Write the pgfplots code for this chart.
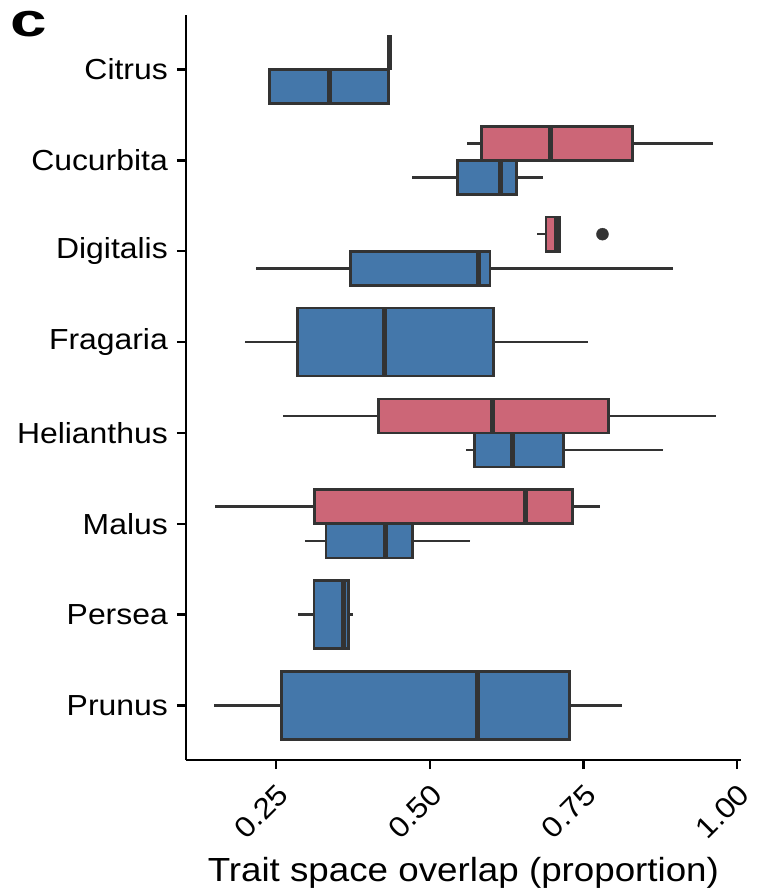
\documentclass[border=0pt]{standalone}
\usepackage{pgfplots}
\pgfplotsset{compat=1.18}
\usepgfplotslibrary{statistics}
\usepackage{fontspec}
\setmainfont{Liberation Sans}[FakeStretch=1.1]
\usepackage{graphicx}
\definecolor{rose}{HTML}{CC6677}
\definecolor{tolblue}{HTML}{4477AA}
\definecolor{gray33}{HTML}{333333}
\pgfplotsset{
  bx/.style={draw=gray33, line width=2.6pt, solid,
    boxplot/every box/.style={line width=2.6pt},
    boxplot/every whisker/.style={line width=2.6pt},
    boxplot/every median/.style={line width=5pt},
    boxplot/whisker extend=0},
  redbx/.style={bx, fill=rose},
  bluebx/.style={bx, fill=tolblue},
}
\begin{document}
\begin{tikzpicture}
\useasboundingbox (-186pt,-133pt) rectangle (573pt,760pt);
\begin{axis}[
  at={(0pt,0pt)}, anchor=south west,
  scale only axis, width=554.8pt, height=745pt,
  xmin=0.1036, xmax=1.006, ymin=0.4, ymax=8.6,
  axis lines=left, axis line style={-, line width=2.6pt, black},
  tick align=outside, major tick length=9pt,
  tick style={line width=2.4pt, black},
  xtick={0.25,0.5,0.75,1}, xticklabels={0.25,0.50,0.75,1.00},
  ytick={1,2,3,4,5,6,7,8},
  yticklabels={Prunus,Persea,Malus,Helianthus,Fragaria,Digitalis,Cucurbita,Citrus},
  /pgf/number format/assume math mode=true,
  ticklabel style={font=\fontsize{29}{34}\selectfont, black},
  xticklabel style={yshift=-13pt, rotate=45, anchor=north east, inner sep=0pt},
  yticklabel style={anchor=east, inner sep=0pt, xshift=-9pt},
  xlabel={Trait space overlap (proportion)},
  every axis x label/.style={at={(axis description cs:0.5,0)}, anchor=base, yshift=-121pt,
    font=\fontsize{33.4}{40}\selectfont},
  boxplot/draw direction=x,
  clip=false,
]
% Citrus
\addplot[redbx, boxplot prepared={lower whisker=0.434, lower quartile=0.434, median=0.434, upper quartile=0.434, upper whisker=0.434, draw position=8.1875, box extend=0.375}] coordinates {};
\addplot[bluebx, boxplot prepared={lower whisker=0.239, lower quartile=0.239, median=0.337, upper quartile=0.433, upper whisker=0.433, draw position=7.8125, box extend=0.375}] coordinates {};
% Cucurbita
\addplot[redbx, boxplot prepared={lower whisker=0.561, lower quartile=0.584, median=0.697, upper quartile=0.830, upper whisker=0.960, draw position=7.1875, box extend=0.375}] coordinates {};
\addplot[bluebx, boxplot prepared={lower whisker=0.472, lower quartile=0.545, median=0.615, upper quartile=0.641, upper whisker=0.684, draw position=6.8125, box extend=0.375}] coordinates {};
% Digitalis
\addplot[redbx, boxplot prepared={lower whisker=0.675, lower quartile=0.689, median=0.706, upper quartile=0.711, upper whisker=0.711, draw position=6.1875, box extend=0.375}] coordinates {};
\addplot[only marks, mark=*, mark size=6pt, color=gray33] coordinates {(0.781,6.1875)};
\addplot[bluebx, boxplot prepared={lower whisker=0.217, lower quartile=0.371, median=0.580, upper quartile=0.598, upper whisker=0.896, draw position=5.8125, box extend=0.375}] coordinates {};
% Fragaria
\addplot[bluebx, boxplot prepared={lower whisker=0.199, lower quartile=0.285, median=0.426, upper quartile=0.604, upper whisker=0.757, draw position=5, box extend=0.75}] coordinates {};
% Helianthus
\addplot[redbx, boxplot prepared={lower whisker=0.261, lower quartile=0.417, median=0.602, upper quartile=0.791, upper whisker=0.965, draw position=4.1875, box extend=0.375}] coordinates {};
\addplot[bluebx, boxplot prepared={lower whisker=0.559, lower quartile=0.573, median=0.635, upper quartile=0.718, upper whisker=0.880, draw position=3.8125, box extend=0.375}] coordinates {};
% Malus
\addplot[redbx, boxplot prepared={lower whisker=0.151, lower quartile=0.313, median=0.656, upper quartile=0.732, upper whisker=0.777, draw position=3.1875, box extend=0.375}] coordinates {};
\addplot[bluebx, boxplot prepared={lower whisker=0.297, lower quartile=0.331, median=0.428, upper quartile=0.472, upper whisker=0.566, draw position=2.8125, box extend=0.375}] coordinates {};
% Persea
\addplot[bluebx, boxplot prepared={lower whisker=0.286, lower quartile=0.312, median=0.359, upper quartile=0.368, upper whisker=0.375, draw position=2, box extend=0.75}] coordinates {};
% Prunus
\addplot[bluebx, boxplot prepared={lower whisker=0.149, lower quartile=0.259, median=0.578, upper quartile=0.727, upper whisker=0.813, draw position=1, box extend=0.75}] coordinates {};
\end{axis}
\node[anchor=base west, inner sep=0pt] at (-176pt,723pt) {\scalebox{1.27}[1]{\fontsize{47}{50}\selectfont\bfseries c}};
\end{tikzpicture}
\end{document}
